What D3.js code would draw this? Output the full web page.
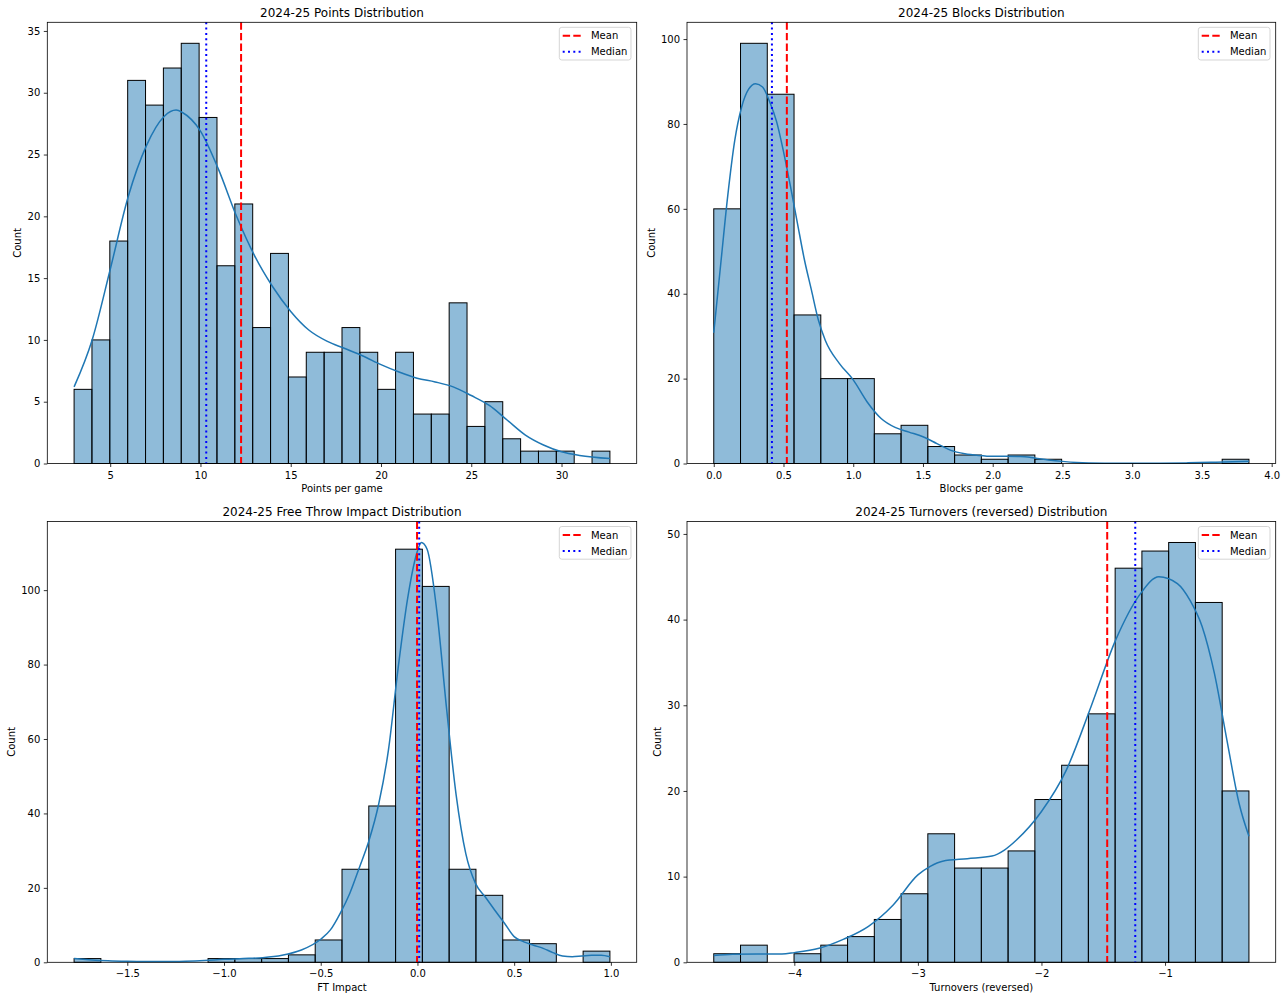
<!DOCTYPE html>
<html>
<head>
<meta charset="UTF-8">
<title>2024-25 Distributions</title>
<script src="https://d3js.org/d3.v7.min.js"></script>
<style>
  body { margin: 0; background: #fff; }
  svg { display: block; }
  text { font-family: "DejaVu Sans", sans-serif; fill: #000; }
  .tick text { font-size: 10px; }
</style>
</head>
<body>
<div id="chart"></div>
<script>
// ---- data ----
var pointsRange = [3.0, 32.68];
var pointsCounts = [6, 10, 18, 31, 29, 32, 34, 28, 16, 21, 11, 17, 7, 9, 9, 11, 9, 6, 9, 4, 4, 13, 3, 5, 2, 1, 1, 1, 0, 1];
var pointsKdeX = [3.0, 4, 5, 6, 7, 8, 8.65, 9, 10, 11, 12, 13, 14, 15, 16, 17, 18, 19, 20, 21, 22, 23, 24, 25, 26, 27, 28, 29, 30, 31, 32.68];
var pointsKdeY = [6.2, 10.0, 15.7, 21.6, 25.7, 28.1, 28.6, 28.4, 26.9, 23.8, 20.0, 16.8, 14.3, 12.3, 10.8, 9.9, 9.3, 8.7, 8.0, 7.4, 6.9, 6.6, 6.2, 5.5, 4.7, 3.5, 2.3, 1.5, 0.95, 0.65, 0.4];
var pointsMean = 12.25, pointsMedian = 10.32;

var blocksRange = [0, 3.837];
var blocksCounts = [60, 99, 87, 35, 20, 20, 7, 9, 4, 2, 1, 2, 1, 0, 0, 0, 0, 0, 0, 1];
var blocksKdeX = [0, 0.05, 0.1, 0.15, 0.2, 0.25, 0.3, 0.35, 0.4, 0.45, 0.5, 0.55, 0.6, 0.65, 0.7, 0.75, 0.8, 0.9, 1.0, 1.1, 1.2, 1.3, 1.4, 1.5, 1.6, 1.7, 1.8, 1.9, 2.0, 2.1, 2.2, 2.3, 2.4, 2.5, 2.6, 2.8, 3.0, 3.2, 3.4, 3.6, 3.837];
var blocksKdeY = [30.8, 47, 63, 76, 84, 88.2, 89.5, 88.7, 85.3, 80.6, 73.5, 65.3, 56.6, 48, 40.9, 33.8, 29, 23.6, 19.7, 14.5, 10.6, 8.5, 7.4, 6.3, 4.7, 3.1, 2.3, 1.9, 1.7, 1.7, 1.65, 1.3, 0.85, 0.5, 0.25, 0.08, 0.05, 0.07, 0.15, 0.3, 0.55];
var blocksMean = 0.524, blocksMedian = 0.417;

var ftRange = [-1.775, 0.995];
var ftCounts = [1, 0, 0, 0, 0, 1, 1, 1, 2, 6, 25, 42, 111, 101, 25, 18, 6, 5, 0, 3];
var ftKdeX = [-1.775, -1.7, -1.6, -1.5, -1.4, -1.3, -1.2, -1.1, -1.0, -0.9, -0.8, -0.7, -0.6, -0.5, -0.45, -0.4, -0.35, -0.3, -0.25, -0.2, -0.15, -0.1, -0.05, 0, 0.02, 0.05, 0.1, 0.15, 0.2, 0.25, 0.3, 0.35, 0.4, 0.45, 0.5, 0.55, 0.6, 0.65, 0.7, 0.75, 0.8, 0.85, 0.9, 0.95, 0.995];
var ftKdeY = [1.0, 0.7, 0.4, 0.25, 0.2, 0.2, 0.3, 0.5, 0.8, 1.0, 1.25, 1.9, 3.3, 6.2, 8.7, 13.1, 18.5, 25.5, 32.8, 42.6, 57, 79, 98, 110.5, 112.8, 111, 94.5, 68.5, 45, 29.2, 21.2, 17.6, 14, 10.5, 6.9, 5.5, 4.6, 3.75, 2.6, 1.7, 1.5, 1.7, 1.9, 1.9, 1.5];
var ftMean = -0.002, ftMedian = 0.009;

var tovRange = [-4.652, -0.321];
var tovCounts = [1, 2, 0, 1, 2, 3, 5, 8, 15, 11, 11, 13, 19, 23, 29, 46, 48, 49, 42, 20];
var tovKdeX = [-4.652, -4.5, -4.3, -4.1, -4.0, -3.8, -3.6, -3.4, -3.2, -3.0, -2.9, -2.8, -2.6, -2.4, -2.3, -2.2, -2.0, -1.8, -1.6, -1.4, -1.2, -1.05, -0.9, -0.8, -0.7, -0.6, -0.5, -0.4, -0.321];
var tovKdeY = [0.78, 0.93, 0.97, 0.97, 1.13, 1.63, 2.7, 4.2, 6.7, 10.2, 11.2, 11.8, 12.1, 12.4, 13.1, 14.3, 17.6, 22.4, 29.8, 37.6, 43, 45, 44.2, 42.3, 39.2, 33.7, 26, 18.5, 14.7];
var tovMean = -1.468, tovMedian = -1.241;

var pointsXTicks = [5, 10, 15, 20, 25, 30], pointsYTicks = [0, 5, 10, 15, 20, 25, 30, 35];
var blocksXTicks = [0, 0.5, 1, 1.5, 2, 2.5, 3, 3.5, 4], blocksYTicks = [0, 20, 40, 60, 80, 100];
var ftXTicks = [-1.5, -1, -0.5, 0, 0.5, 1], ftYTicks = [0, 20, 40, 60, 80, 100];
var tovXTicks = [-4, -3, -2, -1], tovYTicks = [0, 10, 20, 30, 40, 50];

var panels = [
  {title: "2024-25 Points Distribution", xlabel: "Points per game", range: pointsRange, counts: pointsCounts,
   kx: pointsKdeX, ky: pointsKdeY, mean: pointsMean, median: pointsMedian, xt: pointsXTicks, yt: pointsYTicks, fmt: d3.format("d"), col: 0, row: 0},
  {title: "2024-25 Blocks Distribution", xlabel: "Blocks per game", range: blocksRange, counts: blocksCounts,
   kx: blocksKdeX, ky: blocksKdeY, mean: blocksMean, median: blocksMedian, xt: blocksXTicks, yt: blocksYTicks, fmt: d3.format(".1f"), col: 1, row: 0},
  {title: "2024-25 Free Throw Impact Distribution", xlabel: "FT Impact", range: ftRange, counts: ftCounts,
   kx: ftKdeX, ky: ftKdeY, mean: ftMean, median: ftMedian, xt: ftXTicks, yt: ftYTicks, fmt: d3.format(".1f"), col: 0, row: 1},
  {title: "2024-25 Turnovers (reversed) Distribution", xlabel: "Turnovers (reversed)", range: tovRange, counts: tovCounts,
   kx: tovKdeX, ky: tovKdeY, mean: tovMean, median: tovMedian, xt: tovXTicks, yt: tovYTicks, fmt: d3.format("d"), col: 1, row: 1}
];

// ---- layout ----
var W = 1288, H = 1000;
var cols = [{x0: 47.3, x1: 636.7}, {x0: 687, x1: 1275.7}];
var rows = [{y0: 22.3, y1: 463.5}, {y0: 521.5, y1: 962.3}];

var svg = d3.select("#chart").append("svg")
    .attr("width", W)
    .attr("height", H);

panels.forEach(function(p) {
  var c = cols[p.col], r = rows[p.row];
  var lo = p.range[0], hi = p.range[1], n = p.counts.length, bw = (hi - lo) / n;
  var pad = (hi - lo) * 0.05;
  var ymax = Math.max(d3.max(p.counts), d3.max(p.ky)) * 1.05;

  var x = d3.scaleLinear().domain([lo - pad, hi + pad]).range([c.x0, c.x1]);
  var y = d3.scaleLinear().domain([0, ymax]).range([r.y1, r.y0]);

  var g = svg.append("g");

  var bins = p.counts.map(function(v, i) { return {x0: lo + i * bw, x1: lo + (i + 1) * bw, v: v}; })
      .filter(function(b) { return b.v > 0; });

  g.selectAll("rect.bar")
      .data(bins)
      .enter().append("rect")
      .attr("class", "bar")
      .attr("x", function(b) { return x(b.x0); })
      .attr("y", function(b) { return y(b.v); })
      .attr("width", function(b) { return x(b.x1) - x(b.x0); })
      .attr("height", function(b) { return y(0) - y(b.v); })
      .attr("fill", "rgba(31,119,180,0.5)")
      .attr("stroke", "#000")
      .attr("stroke-width", 1);

  var line = d3.line()
      .x(function(d) { return x(d[0]); })
      .y(function(d) { return y(d[1]); })
      .curve(d3.curveMonotoneX);

  g.append("path")
      .datum(d3.zip(p.kx, p.ky))
      .attr("d", line)
      .attr("fill", "none")
      .attr("stroke", "#1f77b4")
      .attr("stroke-width", 1.5);

  g.append("line")
      .attr("x1", x(p.mean)).attr("x2", x(p.mean))
      .attr("y1", r.y0).attr("y2", r.y1)
      .attr("stroke", "red").attr("stroke-width", 2)
      .attr("stroke-dasharray", "7.4,3.2");

  g.append("line")
      .attr("x1", x(p.median)).attr("x2", x(p.median))
      .attr("y1", r.y0).attr("y2", r.y1)
      .attr("stroke", "blue").attr("stroke-width", 2)
      .attr("stroke-dasharray", "2,3.3");

  // axes
  var xAxis = g.append("g")
      .attr("transform", "translate(0," + r.y1 + ")")
      .call(d3.axisBottom(x).tickValues(p.xt).tickFormat(p.fmt).tickSize(3.5).tickPadding(3.5));
  var yAxis = g.append("g")
      .attr("transform", "translate(" + c.x0 + ",0)")
      .call(d3.axisLeft(y).tickValues(p.yt).tickFormat(d3.format("d")).tickSize(3.5).tickPadding(3.5));
  [xAxis, yAxis].forEach(function(a) {
    a.select(".domain").remove();
    a.selectAll(".tick line").attr("stroke", "#000").attr("stroke-width", 0.8);
    a.selectAll(".tick text").attr("fill", "#000").style("font-size", "10px");
  });
  xAxis.selectAll(".tick text").attr("dy", null).attr("y", 15.2);

  // spines
  g.append("rect")
      .attr("x", c.x0).attr("y", r.y0)
      .attr("width", c.x1 - c.x0).attr("height", r.y1 - r.y0)
      .attr("fill", "none").attr("stroke", "#000").attr("stroke-width", 0.8);

  // labels
  g.append("text")
      .attr("x", (c.x0 + c.x1) / 2).attr("y", r.y0 - 5.2)
      .attr("text-anchor", "middle")
      .style("font-size", "12px")
      .text(p.title);

  g.append("text")
      .attr("x", (c.x0 + c.x1) / 2).attr("y", r.y1 + 28.5)
      .attr("text-anchor", "middle")
      .style("font-size", "10px")
      .text(p.xlabel);

  var tl = yAxis.node().getBBox();
  var ylx = c.x0 + tl.x - 4 - 2.4;
  g.append("text")
      .attr("transform", "translate(" + ylx + "," + ((r.y0 + r.y1) / 2) + ") rotate(-90)")
      .attr("text-anchor", "middle")
      .style("font-size", "10px")
      .text("Count");

  // legend
  var lw = 71.7, lh = 32.7;
  var lx = c.x1 - 5.7 - lw, ly = r.y0 + 5;
  var leg = g.append("g").attr("transform", "translate(" + lx + "," + ly + ")");
  leg.append("rect")
      .attr("width", lw).attr("height", lh).attr("rx", 2.5)
      .attr("fill", "rgba(255,255,255,0.8)")
      .attr("stroke", "#d5d5d5").attr("stroke-width", 1);
  [{name: "Mean", color: "red", dash: "7.4,3.2"}, {name: "Median", color: "blue", dash: "2,3.3"}].forEach(function(e, i) {
    var cy = 8.4 + i * 16;
    leg.append("line")
        .attr("x1", 3.4).attr("x2", 21.7).attr("y1", cy).attr("y2", cy)
        .attr("stroke", e.color).attr("stroke-width", 2)
        .attr("stroke-dasharray", e.dash);
    leg.append("text")
        .attr("x", 31.7).attr("y", cy + 3.6)
        .style("font-size", "10px")
        .text(e.name);
  });
});
</script>
</body>
</html>
